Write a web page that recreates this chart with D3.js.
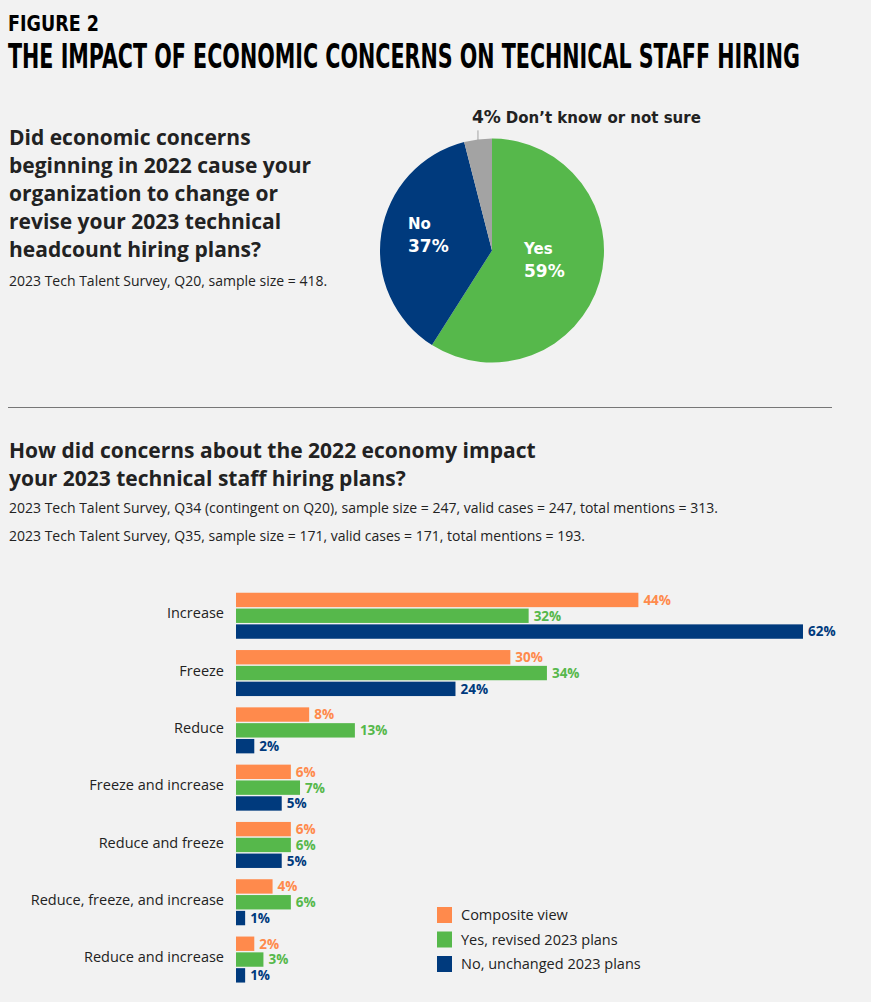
<!DOCTYPE html>
<html>
<head>
<meta charset="utf-8">
<script src="https://cdn.jsdelivr.net/npm/d3@7"></script>
<style>
  body { margin: 0; background: #f2f2f2; }
  svg { display: block; }
</style>
</head>
<body>
<div id="chart"></div>
<script>
// pie data
const pieLabels = ["Yes", "No", "Don\u2019t know or not sure"]
const pieValues = [59, 37, 4]
const pieColors = ["#56b84b", "#003a7d", "#a3a3a3"]

// bar data
const categories = ["Increase", "Freeze", "Reduce", "Freeze and increase",
                    "Reduce and freeze", "Reduce, freeze, and increase", "Reduce and increase"]
const seriesNames = ["Composite view", "Yes, revised 2023 plans", "No, unchanged 2023 plans"]
const composite = [44, 30, 8, 6, 6, 4, 2]
const revised = [32, 34, 13, 7, 6, 6, 3]
const unchanged = [62, 24, 2, 5, 5, 1, 1]
const seriesColors = ["#ff8a4c", "#56b84b", "#003a7d"]

const W = 871, H = 1002
const dark = "#222222"
const condensed = "'DejaVu Sans Condensed', 'DejaVu Sans', sans-serif"
const geo = "'DejaVu Sans', sans-serif"

let svg = d3.select("#chart").append("svg")
            .attr("width", W)
            .attr("height", H)

svg.append("rect").attr("width", W).attr("height", H).attr("fill", "#f2f2f2")

// headings
svg.append("text")
   .attr("x", 8).attr("y", 31)
   .attr("font-family", condensed)
   .attr("font-stretch", "condensed")
   .attr("font-weight", "bold")
   .attr("font-size", 22)
   .attr("fill", "#000")
   .attr("textLength", 91)
   .attr("lengthAdjust", "spacingAndGlyphs")
   .text("FIGURE 2")

svg.append("text")
   .attr("x", 8).attr("y", 68)
   .attr("font-family", condensed)
   .attr("font-stretch", "condensed")
   .attr("font-weight", "bold")
   .attr("font-size", 33)
   .attr("fill", "#000")
   .attr("textLength", 792)
   .attr("lengthAdjust", "spacingAndGlyphs")
   .text("THE IMPACT OF ECONOMIC CONCERNS ON TECHNICAL STAFF HIRING")

// first question
const q1 = ["Did economic concerns", "beginning in 2022 cause your", "organization to change or",
            "revise your 2023 technical", "headcount hiring plans?"]
svg.append("g").selectAll("text")
   .data(q1)
   .join("text")
   .attr("x", 9)
   .attr("y", (d, i) => 145 + i * 28)
   .attr("font-family", "Open Sans")
   .attr("font-weight", "bold")
   .attr("font-size", 21)
   .attr("fill", dark)
   .text(d => d)

svg.append("text")
   .attr("x", 9).attr("y", 286)
   .attr("font-family", "Open Sans")
   .attr("font-size", 14)
   .attr("fill", dark)
   .text("2023 Tech Talent Survey, Q20, sample size = 418.")

// pie
const cx = 492, cy = 250.5, r = 112
let pie = d3.pie().sort(null)
let arc = d3.arc().innerRadius(0).outerRadius(r)
let arcs = pie(pieValues)

let pieG = svg.append("g").attr("transform", "translate(" + cx + "," + cy + ")")
pieG.selectAll("path")
    .data(arcs)
    .join("path")
    .attr("d", arc)
    .attr("fill", (d, i) => pieColors[i])

// inner labels for Yes / No
const inLabelPos = [[32, 3.5], [-84, -21.5]]
;[0, 1].forEach(i => {
  let t = pieG.append("text")
              .attr("x", inLabelPos[i][0]).attr("y", inLabelPos[i][1])
              .attr("font-family", geo)
              .attr("font-weight", "bold")
              .attr("fill", "#fff")
  t.append("tspan").attr("x", inLabelPos[i][0]).attr("font-size", 15).text(pieLabels[i])
  t.append("tspan").attr("x", inLabelPos[i][0]).attr("dy", 23).attr("font-size", 17)
   .text(pieValues[i] + "%")
})

// outside label for the small slice
let small = arcs[2]
let mid = (small.startAngle + small.endAngle) / 2
let lx = Math.sin(mid) * r, ly = -Math.cos(mid) * r
pieG.append("line")
    .attr("x1", lx).attr("y1", ly + 3)
    .attr("x2", lx).attr("y2", ly - 9)
    .attr("stroke", "#a3a3a3")
    .attr("stroke-width", 1)
let outT = pieG.append("text")
               .attr("x", lx - 6).attr("y", -127.5)
               .attr("font-family", geo)
               .attr("font-weight", "bold")
               .attr("fill", dark)
outT.append("tspan").attr("font-size", 17).text(pieValues[2] + "%")
outT.append("tspan").attr("font-size", 15).attr("dx", 5).text(pieLabels[2])

// divider
svg.append("line")
   .attr("x1", 8).attr("x2", 832)
   .attr("y1", 407.5).attr("y2", 407.5)
   .attr("stroke", "#777").attr("stroke-width", 1)

// second question
const q2 = ["How did concerns about the 2022 economy impact", "your 2023 technical staff hiring plans?"]
svg.append("g").selectAll("text")
   .data(q2)
   .join("text")
   .attr("x", 9)
   .attr("y", (d, i) => 458 + i * 28)
   .attr("font-family", "Open Sans")
   .attr("font-weight", "bold")
   .attr("font-size", 21)
   .attr("fill", dark)
   .text(d => d)

const notes = ["2023 Tech Talent Survey, Q34 (contingent on Q20), sample size = 247, valid cases = 247, total mentions = 313.",
               "2023 Tech Talent Survey, Q35, sample size = 171, valid cases = 171, total mentions = 193."]
svg.append("g").selectAll("text")
   .data(notes)
   .join("text")
   .attr("x", 9)
   .attr("y", (d, i) => 513 + i * 28)
   .attr("font-family", "Open Sans")
   .attr("font-size", 14)
   .attr("fill", dark)
   .text(d => d)

// bars
const seriesValues = [composite, revised, unchanged]
let rows = categories.map((c, i) => ({
  cat: c,
  vals: seriesNames.map((s, j) => ({ series: s, j: j, v: seriesValues[j][i] }))
}))

let x = d3.scaleLinear().domain([0, 100]).range([236, 236 + 914.5])
let y = d3.scaleBand().domain(categories)
          .range([587.1, 587.1 + 7 * 57.3])
          .paddingInner(0.197).paddingOuter(0.0985)
let yIn = d3.scaleBand().domain(seriesNames)
            .range([0, y.bandwidth()]).paddingInner(0.09)

let groups = svg.append("g").selectAll("g")
                .data(rows)
                .join("g")
                .attr("transform", d => "translate(0," + y(d.cat) + ")")

groups.selectAll("rect")
      .data(d => d.vals)
      .join("rect")
      .attr("x", x(0))
      .attr("y", d => yIn(d.series))
      .attr("width", d => x(d.v) - x(0))
      .attr("height", yIn.bandwidth())
      .attr("fill", d => seriesColors[d.j])

groups.selectAll("text.val")
      .data(d => d.vals)
      .join("text")
      .attr("class", "val")
      .attr("x", d => x(d.v) + 5)
      .attr("y", d => yIn(d.series) + yIn.bandwidth() / 2)
      .attr("dy", "0.36em")
      .attr("font-family", "Open Sans")
      .attr("font-weight", "bold")
      .attr("font-size", 13.5)
      .attr("fill", d => seriesColors[d.j])
      .text(d => d.v + "%")

// category labels
svg.append("g")
   .attr("transform", "translate(" + (x(0) - 12) + ",-2)")
   .call(d3.axisLeft(y).tickSize(0).tickPadding(0))
   .call(g => g.select(".domain").remove())
   .selectAll("text")
   .attr("font-family", "Open Sans")
   .attr("font-size", 14.5)
   .attr("fill", dark)

// legend
let legend = svg.append("g").selectAll("g")
                .data(seriesNames)
                .join("g")
                .attr("transform", (d, i) => "translate(437," + (907 + i * 24.5) + ")")
legend.append("rect")
      .attr("width", 15).attr("height", 16)
      .attr("fill", (d, i) => seriesColors[i])
legend.append("text")
      .attr("x", 24).attr("y", 8)
      .attr("dy", "0.36em")
      .attr("font-family", "Open Sans")
      .attr("font-size", 14.5)
      .attr("fill", dark)
      .text(d => d)
</script>
</body>
</html>
